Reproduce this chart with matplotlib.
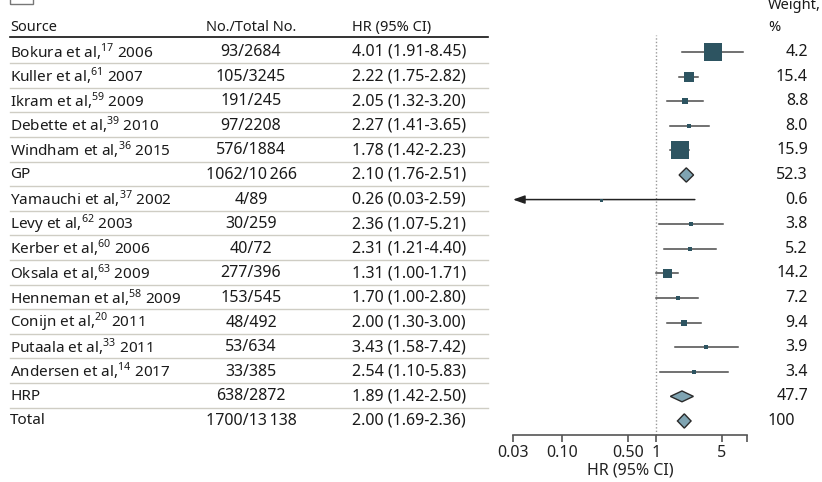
import matplotlib
matplotlib.use('Agg')
import matplotlib.pyplot as plt
import matplotlib.transforms as mtransforms
from matplotlib.lines import Line2D
from matplotlib.patches import Rectangle, Polygon

plt.rcParams['font.family'] = ['Noto Sans', 'DejaVu Sans']
plt.rcParams['mathtext.fontset'] = 'custom'
plt.rcParams['mathtext.rm'] = 'Noto Sans'
plt.rcParams['mathtext.bf'] = 'Noto Sans:bold'

# ---- data ----
sources = ['Bokura et al', 'Kuller et al', 'Ikram et al', 'Debette et al', 'Windham et al', 'GP',
           'Yamauchi et al', 'Levy et al', 'Kerber et al', 'Oksala et al', 'Henneman et al',
           'Conijn et al', 'Putaala et al', 'Andersen et al', 'HRP', 'Total']
refs = ['17', '61', '59', '39', '36', '', '37', '62', '60', '63', '58', '20', '33', '14', '', '']
years = ['2006', '2007', '2009', '2010', '2015', '', '2002', '2003', '2006', '2009', '2009',
         '2011', '2011', '2017', '', '']
counts = ['93/2684', '105/3245', '191/245', '97/2208', '576/1884', '1062/10\u2009266',
          '4/89', '30/259', '40/72', '277/396', '153/545', '48/492', '53/634', '33/385',
          '638/2872', '1700/13\u2009138']
hr = [4.01, 2.22, 2.05, 2.27, 1.78, 2.10, 0.26, 2.36, 2.31, 1.31, 1.70, 2.00, 3.43, 2.54, 1.89, 2.00]
lo = [1.91, 1.75, 1.32, 1.41, 1.42, 1.76, 0.03, 1.07, 1.21, 1.00, 1.00, 1.30, 1.58, 1.10, 1.42, 1.69]
hi = [8.45, 2.82, 3.20, 3.65, 2.23, 2.51, 2.59, 5.21, 4.40, 1.71, 2.80, 3.00, 7.42, 5.83, 2.50, 2.36]
weights = ['4.2', '15.4', '8.8', '8.0', '15.9', '52.3', '0.6', '3.8', '5.2', '14.2', '7.2',
           '9.4', '3.9', '3.4', '47.7', '100']
summary = ['GP', 'HRP', 'Total']
ticks = [0.03, 0.10, 0.50, 1, 5]
tick_labels = ['0.03', '0.10', '0.50', '1', '5']

# marker box sizes in pixels, as drawn in the original
box_px = [18, 10, 6, 5, 18, 0, 3, 4, 5, 9, 5, 6, 5, 4, 0, 0]

W, H = 822, 482
fig = plt.figure(figsize=(W / 100, H / 100), dpi=100)

def fx(px):
    return px / W

y_top, y_bot = -0.69, 15.57
ax = fig.add_axes([fx(513), 1 - 435 / H, fx(747) - fx(513), (435 - 35) / H])
ax.set_xscale('log')
ax.set_xlim(0.03, 9.3)
ax.set_ylim(y_bot, y_top)

box_col = '#2d5461'
line_col = '#4a4a4a'
fs_src = 11      # source column
fs_num = 11.5    # numeric columns
fs_head = 10.5

for i in range(len(sources)):
    if sources[i] in summary:
        h = 0.22 if sources[i] == 'HRP' else 0.29
        ax.add_patch(Polygon([(lo[i], i), (hr[i], i - h), (hi[i], i), (hr[i], i + h)],
                             closed=True, facecolor='#7fa4b2', edgecolor='#2a2a2a', lw=1.0, zorder=3))
        continue
    if lo[i] <= 0.03:
        ax.annotate('', xy=(lo[i], i), xytext=(hi[i], i),
                    arrowprops=dict(arrowstyle='-|>,head_length=0.7,head_width=0.25',
                                    color='#222222', lw=1.1, shrinkA=0, shrinkB=0),
                    annotation_clip=False)
    else:
        ax.plot([lo[i], hi[i]], [i, i], color=line_col, lw=1.1, zorder=2)
    ax.plot(hr[i], i, 's', ms=box_px[i] * 0.72, color=box_col, mec=box_col, mew=0, zorder=3)

ax.axvline(1, color='#999999', lw=1.0, ls=(0, (1, 1.5)), zorder=1)

for s in ['top', 'right', 'left']:
    ax.spines[s].set_visible(False)
ax.spines['bottom'].set_color('#555555')
ax.spines['bottom'].set_linewidth(1.2)
ax.set_yticks([])
ax.set_xticks(ticks + [9.3])
ax.set_xticklabels(tick_labels + [''])
ax.xaxis.set_minor_locator(matplotlib.ticker.NullLocator())
ax.tick_params(axis='x', direction='out', length=5, width=1.2, color='#555555',
               labelsize=fs_num, labelcolor='#222222', pad=2)
ax.set_xlabel('HR (95% CI)', fontsize=fs_num, color='#222222', labelpad=1)

# ---- text columns ----
trans = mtransforms.blended_transform_factory(fig.transFigure, ax.transData)
tc = '#1a1a1a'

hy = -1.0
fig.text(fx(10), hy, 'Source', transform=trans, fontsize=fs_head, fontweight='bold', va='center', color=tc)
fig.text(fx(251), hy, 'No./Total No.', transform=trans, fontsize=fs_head, fontweight='bold', va='center',
         ha='center', color=tc)
fig.text(fx(352), hy, 'HR (95% CI)', transform=trans, fontsize=fs_head, fontweight='bold', va='center', color=tc)
fig.text(fx(768), -1.88, 'Weight,', transform=trans, fontsize=fs_head, fontweight='bold', va='center', color=tc)
fig.text(fx(768), -0.98, '%', transform=trans, fontsize=fs_head, fontweight='bold', va='center', color=tc)

fig.add_artist(Line2D([fx(10), fx(488)], [-0.61, -0.61], transform=trans, color='#111111', lw=1.2))

for i in range(len(sources)):
    if refs[i]:
        label = sources[i] + ',$^{' + refs[i] + '}$ ' + years[i]
    else:
        label = sources[i]
    fig.text(fx(10), i, label, transform=trans, fontsize=fs_src, va='center', color=tc)
    fig.text(fx(251), i, counts[i], transform=trans, fontsize=fs_num, va='center', ha='center', color=tc)
    fig.text(fx(352), i, '%.2f (%.2f-%.2f)' % (hr[i], lo[i], hi[i]), transform=trans,
             fontsize=fs_num, va='center', color=tc)
    wx = 795 if '.' not in weights[i] else 808
    fig.text(fx(wx), i, weights[i], transform=trans, fontsize=fs_num, va='center', ha='right', color=tc)
    if i < len(sources) - 1:
        fig.add_artist(Line2D([fx(10), fx(488)], [i + 0.46, i + 0.46], transform=trans,
                              color='#cfcdc4', lw=1.0))

# small box clipped at the top-left corner
fig.add_artist(Rectangle((fx(10), 1 - 4 / H), fx(23), 10 / H, transform=fig.transFigure,
                         fill=False, edgecolor='#777777', lw=1.0))

fig.savefig('out.png', dpi=100)
